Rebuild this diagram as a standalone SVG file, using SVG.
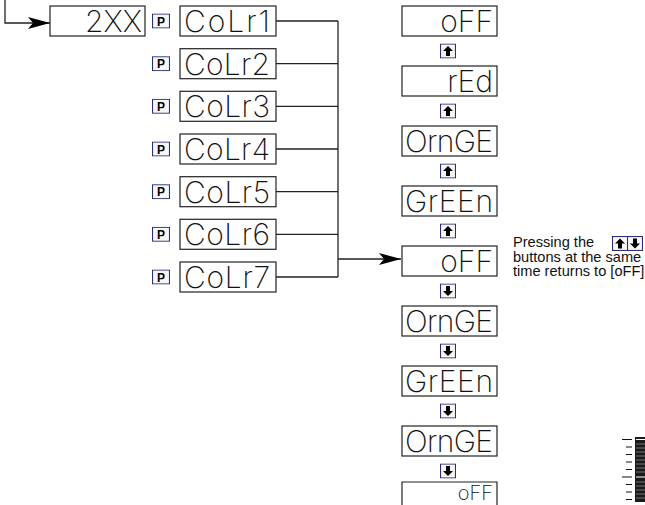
<svg xmlns="http://www.w3.org/2000/svg" width="645" height="505" viewBox="0 0 645 505">
  <style>
    .box { fill: #ffffff; stroke: #222222; stroke-width: 1.2; }
    .seg { font-family: Inter, "DejaVu Sans", sans-serif; font-weight: 200; font-size: 30px; fill: #111111; }
    .seg-small { font-size: 20px; }
    .key { fill: #f6f6f6; stroke: #2d2d72; stroke-width: 1.1; }
    .keyP { font-family: "Liberation Sans", Arial, sans-serif; font-weight: bold; font-size: 12px; fill: #000000; text-anchor: middle; }
    .wire { fill: none; stroke: #222222; stroke-width: 1.3; }
    .note { font-family: "Liberation Sans", Arial, sans-serif; font-size: 14.6px; fill: #111111; }
  </style>
  <defs>
    <marker id="head" markerUnits="userSpaceOnUse" markerWidth="24" markerHeight="14" refX="22" refY="6" orient="auto" overflow="visible">
      <path d="M0,0 L22,6 L0,12 L5,6 Z" fill="#000000"/>
    </marker>
    <symbol id="keyUp" viewBox="0 0 16 15" width="16" height="15">
      <rect class="key" x="0.5" y="0.5" width="15" height="14"/>
      <path d="M8,2.5 L13,7.5 L10,7.5 L10,12.5 L6,12.5 L6,7.5 L3,7.5 Z" fill="#000000"/>
    </symbol>
    <symbol id="keyDown" viewBox="0 0 16 15" width="16" height="15">
      <rect class="key" x="0.5" y="0.5" width="15" height="14"/>
      <path d="M8,12.5 L13,7.5 L10,7.5 L10,2.5 L6,2.5 L6,7.5 L3,7.5 Z" fill="#000000"/>
    </symbol>
    <symbol id="keyPro" viewBox="0 0 18 15" width="18" height="15">
      <rect class="key" x="0.5" y="0.5" width="17" height="14"/>
      <text class="keyP" x="9" y="12">P</text>
    </symbol>
  </defs>

  <!-- connectors -->
  <g id="connectors">
    <path class="wire" d="M5,0 V23 H50" marker-end="url(#head)"/>
    <path class="wire" d="M276,21 H338"/>
    <path class="wire" d="M276,63.7 H338"/>
    <path class="wire" d="M276,106.3 H338"/>
    <path class="wire" d="M276,149 H338"/>
    <path class="wire" d="M276,191.7 H338"/>
    <path class="wire" d="M276,234.3 H338"/>
    <path class="wire" d="M276,277 H338"/>
    <path class="wire" d="M338,21 V277"/>
    <path class="wire" d="M338,259 H401" marker-end="url(#head)"/>
  </g>

  <!-- entry display -->
  <g id="entry">
    <rect class="box" x="50" y="6" width="95" height="30"/>
    <text class="seg" x="142" y="32" text-anchor="end">2XX</text>
  </g>

  <!-- color channel displays with program keys -->
  <g id="colr1">
    <use href="#keyPro" x="152" y="13.5"/>
    <rect class="box" x="180" y="6" width="96" height="30"/>
    <text class="seg" x="184" y="32" textLength="86" lengthAdjust="spacing">CoLr1</text>
  </g>
  <g id="colr2">
    <use href="#keyPro" x="152" y="56.2"/>
    <rect class="box" x="180" y="48.7" width="96" height="30"/>
    <text class="seg" x="184" y="74.7" textLength="86" lengthAdjust="spacing">CoLr2</text>
  </g>
  <g id="colr3">
    <use href="#keyPro" x="152" y="98.8"/>
    <rect class="box" x="180" y="91.3" width="96" height="30"/>
    <text class="seg" x="184" y="117.3" textLength="86" lengthAdjust="spacing">CoLr3</text>
  </g>
  <g id="colr4">
    <use href="#keyPro" x="152" y="141.5"/>
    <rect class="box" x="180" y="134" width="96" height="30"/>
    <text class="seg" x="184" y="160" textLength="86" lengthAdjust="spacing">CoLr4</text>
  </g>
  <g id="colr5">
    <use href="#keyPro" x="152" y="184.2"/>
    <rect class="box" x="180" y="176.7" width="96" height="30"/>
    <text class="seg" x="184" y="202.7" textLength="86" lengthAdjust="spacing">CoLr5</text>
  </g>
  <g id="colr6">
    <use href="#keyPro" x="152" y="226.8"/>
    <rect class="box" x="180" y="219.3" width="96" height="30"/>
    <text class="seg" x="184" y="245.3" textLength="86" lengthAdjust="spacing">CoLr6</text>
  </g>
  <g id="colr7">
    <use href="#keyPro" x="152" y="269.5"/>
    <rect class="box" x="180" y="262" width="96" height="30"/>
    <text class="seg" x="184" y="288" textLength="86" lengthAdjust="spacing">CoLr7</text>
  </g>

  <!-- selectable values, stepped with the up / down keys -->
  <g id="val-off-top">
    <rect class="box" x="402" y="6" width="95" height="30"/>
    <text class="seg" x="493" y="32" text-anchor="end">oFF</text>
  </g>
  <g id="step-up-1"><use href="#keyUp" x="440" y="43.5"/></g>
  <g id="val-red">
    <rect class="box" x="402" y="66" width="95" height="30"/>
    <text class="seg" x="493" y="92" text-anchor="end">rEd</text>
  </g>
  <g id="step-up-2"><use href="#keyUp" x="440" y="103.5"/></g>
  <g id="val-orange-1">
    <rect class="box" x="402" y="126" width="95" height="30"/>
    <text class="seg" x="405" y="152" textLength="88" lengthAdjust="spacing">OrnGE</text>
  </g>
  <g id="step-up-3"><use href="#keyUp" x="440" y="163.5"/></g>
  <g id="val-green-1">
    <rect class="box" x="402" y="186" width="95" height="30"/>
    <text class="seg" x="405" y="212" textLength="88" lengthAdjust="spacing">GrEEn</text>
  </g>
  <g id="step-up-4"><use href="#keyUp" x="440" y="223.5"/></g>
  <g id="val-off-mid">
    <rect class="box" x="402" y="246" width="95" height="30"/>
    <text class="seg" x="493" y="272" text-anchor="end">oFF</text>
  </g>
  <g id="step-down-1"><use href="#keyDown" x="440" y="283.5"/></g>
  <g id="val-orange-2">
    <rect class="box" x="402" y="306" width="95" height="30"/>
    <text class="seg" x="405" y="332" textLength="88" lengthAdjust="spacing">OrnGE</text>
  </g>
  <g id="step-down-2"><use href="#keyDown" x="440" y="343.5"/></g>
  <g id="val-green-2">
    <rect class="box" x="402" y="366" width="95" height="30"/>
    <text class="seg" x="405" y="392" textLength="88" lengthAdjust="spacing">GrEEn</text>
  </g>
  <g id="step-down-3"><use href="#keyDown" x="440" y="403.5"/></g>
  <g id="val-orange-3">
    <rect class="box" x="402" y="426" width="95" height="30"/>
    <text class="seg" x="405" y="452" textLength="88" lengthAdjust="spacing">OrnGE</text>
  </g>
  <g id="step-down-4"><use href="#keyDown" x="440" y="463.5"/></g>
  <g id="val-off-bottom">
    <path class="box" d="M402,506 V482 H497 V506"/>
    <text class="seg seg-small" x="493" y="500" text-anchor="end">oFF</text>
  </g>

  <!-- note on resetting -->
  <g id="note">
    <text class="note" x="513" y="247">Pressing  the</text>
    <use href="#keyUp" x="612" y="236"/>
    <use href="#keyDown" x="627" y="236"/>
    <text class="note" x="513" y="261.5">buttons at the same</text>
    <text class="note" x="513" y="276">time returns to [oFF]</text>
  </g>

  <!-- scale strip, lower right -->
  <g id="scale">
    <g stroke="#111111" stroke-width="1.2">
      <path d="M622,439.5 H632 M626,447 H632 M626,454.5 H632 M626,462 H632 M626,469.5 H632 M622,477 H632 M626,484.5 H632 M626,492 H632 M626,499.5 H632"/>
    </g>
    <rect x="635" y="437" width="10" height="65" fill="#1a1a1a"/>
    <g stroke="#777777" stroke-width="1">
      <path d="M636,444 H645 M636,448 H645 M636,452 H645 M636,456 H645 M636,460 H645 M636,464 H645 M636,468 H645 M636,472 H645 M636,482 H645 M636,486 H645 M636,490 H645 M636,494 H645 M636,498 H645"/>
    </g>
    <path d="M636,439.5 H645 M636,477 H645" stroke="#ffffff" stroke-width="1.2"/>
  </g>
</svg>
